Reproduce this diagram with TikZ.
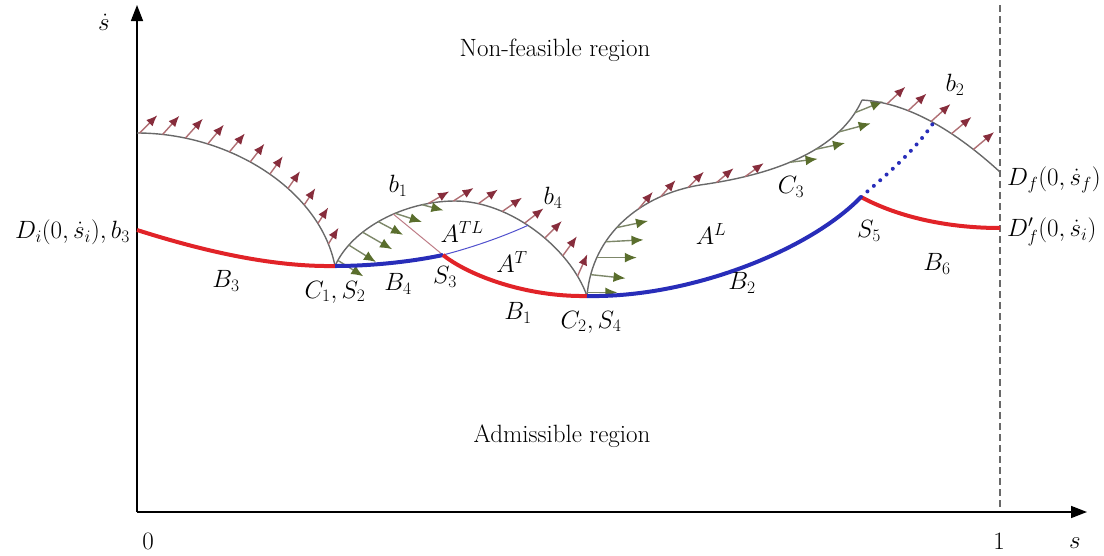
\RequirePackage{fix-cm}
\documentclass[tikz,border=0pt]{standalone}
\usetikzlibrary{arrows.meta,decorations.markings}
\definecolor{rhead}{RGB}{135,45,60}
\definecolor{rshaft}{RGB}{175,110,115}
\definecolor{ghead}{RGB}{90,110,45}
\definecolor{gshaft}{RGB}{125,135,105}
\definecolor{curvegray}{RGB}{105,105,105}
\definecolor{bred}{RGB}{225,35,40}
\definecolor{bblue}{RGB}{40,45,185}
\definecolor{pinkline}{RGB}{190,125,135}
\definecolor{thinblue}{RGB}{80,80,205}
\newcommand\rA[2]{\pgftransformresetnontranslations\draw[rarr] (0,0) -- (#1:#2pt);}
\newcommand\gA[2]{\pgftransformresetnontranslations\draw[garr] (0,0) -- (#1:#2pt);}
\tikzset{
  rarr/.style={draw=rshaft, line width=1.4pt, -{Latex[length=11pt,width=9pt,color=rhead]}},
  garr/.style={draw=gshaft, line width=1.4pt, -{Latex[length=12pt,width=10pt,color=ghead]}},
  bound/.style={draw=curvegray, line width=1.4pt},
  redc/.style={draw=bred, line width=4pt},
  bluec/.style={draw=bblue, line width=4pt},
  axisline/.style={line width=1.6pt, -{Triangle[length=16pt,width=12pt]}},
  lbl/.style={font=\fontsize{25}{28}\selectfont, inner sep=1pt},
  txt/.style={font=\fontsize{25}{28}\selectfont, inner sep=1pt},
}
\begin{document}
\begin{tikzpicture}[x=1pt,y=-1pt]
\useasboundingbox (0,0) rectangle (1104,555);
% key points
\coordinate (O) at (137,512);
\coordinate (Ytop) at (137,5);
\coordinate (Xend) at (1087,512);
\coordinate (Dtop) at (1000,5);
\coordinate (Dbot) at (1000,512);
\coordinate (Di) at (137,230);
\coordinate (A1s) at (137,133);
\coordinate (C1) at (335,266);
\coordinate (S3) at (443,255);
\coordinate (C2) at (587,296);
\coordinate (S5) at (861,197);
\coordinate (Dfp) at (1000,228);
\coordinate (Df) at (1000,172);
\coordinate (Top2) at (455,201);
\coordinate (M3) at (700,185);
\coordinate (K) at (862,100);
% dashed line s=1
\draw[curvegray, line width=1.5pt, dash pattern=on 7pt off 4pt] (Dtop) -- (Dbot);
% axes
\draw[axisline] (O) -- (Ytop);
\draw[axisline] (O) -- (Xend);
% arc 1
\draw[bound, postaction={decorate, decoration={markings,
  mark=at position 0.01 with {\rA{45}{25}},
  mark=at position 0.10 with {\rA{48}{25}},
  mark=at position 0.19 with {\rA{48}{26}},
  mark=at position 0.28 with {\rA{50}{25}},
  mark=at position 0.37 with {\rA{50}{24}},
  mark=at position 0.46 with {\rA{52}{23}},
  mark=at position 0.55 with {\rA{54}{22}},
  mark=at position 0.64 with {\rA{55}{21}},
  mark=at position 0.73 with {\rA{56}{20}},
  mark=at position 0.82 with {\rA{57}{19}},
  mark=at position 0.91 with {\rA{58}{19}}}}]
  (A1s) .. controls (230,133) and (320,190) .. (C1);
% arc 2 (b1 - b4)
\draw[bound, postaction={decorate, decoration={markings,
  mark=at position 0.02 with {\gA{-32}{30}},
  mark=at position 0.08 with {\gA{-32}{32}},
  mark=at position 0.14 with {\gA{-30}{34}},
  mark=at position 0.20 with {\gA{-28}{28}},
  mark=at position 0.26 with {\gA{-18}{28}},
  mark=at position 0.35 with {\gA{-15}{22}},
  mark=at position 0.37 with {\rA{30}{24}},
  mark=at position 0.45 with {\rA{33}{24}},
  mark=at position 0.53 with {\rA{36}{24}},
  mark=at position 0.61 with {\rA{35}{24}},
  mark=at position 0.69 with {\rA{38}{24}},
  mark=at position 0.77 with {\rA{45}{24}},
  mark=at position 0.85 with {\rA{54}{24}},
  mark=at position 0.93 with {\rA{66}{24}}}}]
  (C1) .. controls (352,228) and (405,201) .. coordinate[pos=0.58] (Tb1) (Top2)
       .. controls (510,201) and (570,248) .. coordinate[pos=0.45] (Tb4) (C2);
% curve C2 - C3
\draw[bound, postaction={decorate, decoration={markings,
  mark=at position 0.01 with {\gA{0}{30}},
  mark=at position 0.06 with {\gA{-6}{35}},
  mark=at position 0.11 with {\gA{0}{40}},
  mark=at position 0.16 with {\gA{3}{38}},
  mark=at position 0.21 with {\gA{12}{32}},
  mark=at position 0.29 with {\rA{50}{22}},
  mark=at position 0.36 with {\rA{48}{22}},
  mark=at position 0.44 with {\rA{45}{22}},
  mark=at position 0.52 with {\rA{40}{22}},
  mark=at position 0.60 with {\rA{36}{23}},
  mark=at position 0.73 with {\gA{7}{28}},
  mark=at position 0.81 with {\gA{12}{30}},
  mark=at position 0.89 with {\gA{15}{33}},
  mark=at position 0.96 with {\gA{22}{30}}}}]
  (C2) .. controls (592,235) and (640,195) .. (M3)
       .. controls (750,178) and (835,160) .. (K);
% arc b2
\draw[bound, postaction={decorate, decoration={markings,
  mark=at position 0.16 with {\rA{43}{25}},
  mark=at position 0.30 with {\rA{43}{25}},
  mark=at position 0.46 with {\rA{42}{26}},
  mark=at position 0.61 with {\rA{40}{26}},
  mark=at position 0.78 with {\rA{40}{27}}}}]
  (K) .. controls (915,103) and (965,140) .. coordinate[pos=0.47] (Tb2) (Df);
% thin lines
\draw[pinkline, line width=1pt] (S3) -- (Tb1);
\draw[thinblue, line width=1pt] (S3) .. controls (470,248) and (500,238) .. (Tb4);
% boundary curves
\draw[redc] (Di) .. controls (200,250) and (270,267) .. (C1);
\draw[bluec] (C1) .. controls (370,266) and (410,262) .. (S3);
\draw[redc] (S3) .. controls (468,275) and (525,297) .. (C2);
\draw[bluec] (C2) .. controls (690,298) and (810,250) .. (S5);
\draw[redc] (S5) .. controls (900,218) and (950,228) .. (Dfp);
\draw[bblue, line width=4pt, line cap=round, dash pattern=on 0pt off 8.5pt] (S5) .. controls (890,172) and (915,150) .. (Tb2);
% labels
\node[lbl] (lsdot) at (104,22) {$\dot{s}$};
\node[txt] (lnf) at (555,50) {Non-feasible region};
\node[txt] (lad) at (562,436) {Admissible region};
\node[lbl] (l0) at (148,541) {$0$};
\node[lbl] (l1) at (999,541) {$1$};
\node[lbl] (ls) at (1075,543) {$s$};
\node[lbl, anchor=east] (lDi) at (131,232) {$D_i(0,\dot{s}_i), b_3$};
\node[lbl] (lB3) at (226,281) {$B_3$};
\node[lbl] (lC1) at (335,292) {$C_1, S_2$};
\node[lbl] (lB4) at (398,284) {$B_4$};
\node[lbl] (lS3) at (445,277) {$S_3$};
\node[lbl] (lB1) at (518,313) {$B_1$};
\node[lbl] (lC2) at (591,322) {$C_2, S_4$};
\node[lbl] (lATL) at (462,232) {$A^{TL}$};
\node[lbl] (lAT) at (512,262) {$A^{T}$};
\node[lbl] (lb1) at (398,186) {$b_1$};
\node[lbl] (lb4) at (553,198) {$b_4$};
\node[lbl] (lAL) at (711,234) {$A^{L}$};
\node[lbl] (lB2) at (742,283) {$B_2$};
\node[lbl] (lC3) at (791,187) {$C_3$};
\node[lbl] (lS5) at (869,231) {$S_5$};
\node[lbl] (lB6) at (937,264) {$B_6$};
\node[lbl] (lb2) at (955,85) {$b_2$};
\node[lbl, anchor=west] (lDf) at (1006,180) {$D_f(0,\dot{s}_f)$};
\node[lbl, anchor=west] (lDfp) at (1006,232) {$D'_f(0,\dot{s}_i)$};
\end{tikzpicture}
\end{document}
